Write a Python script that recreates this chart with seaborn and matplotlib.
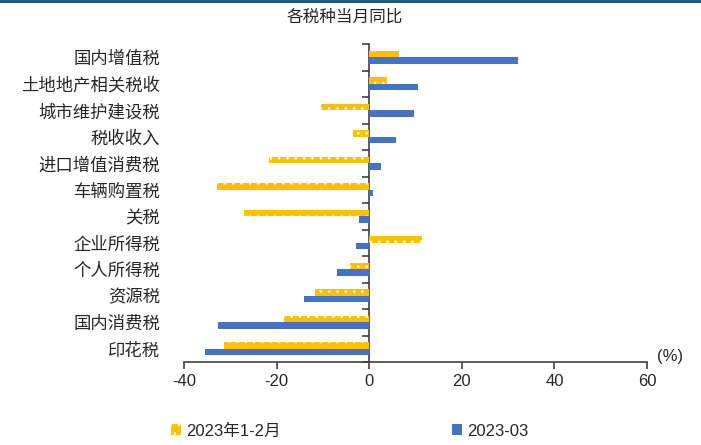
import numpy as np
import pandas as pd
import matplotlib
matplotlib.use("Agg")
import matplotlib.pyplot as plt
from matplotlib.patches import Patch
from matplotlib.lines import Line2D
import seaborn as sns

categories = ['国内增值税', '土地地产相关税收', '城市维护建设税', '税收收入', '进口增值消费税',
              '车辆购置税', '关税', '企业所得税', '个人所得税', '资源税', '国内消费税', '印花税']
jan_feb = [6.5, 3.8, -10.5, -3.4, -21.6, -32.8, -27.1, 11.5, -4.1, -11.7, -18.5, -31.4]
mar = [32.2, 10.6, 9.7, 5.7, 2.6, 0.9, -2.2, -2.9, -7.0, -14.1, -32.6, -35.4]
series_names = ['2023年1-2月', '2023-03']
xticks = [-40, -20, 0, 20, 40, 60]
title = '各税种当月同比'

yellow = '#FFC000'
blue = '#4472C4'

df = pd.DataFrame({
    'cat': categories * 2,
    'value': jan_feb + mar,
    'series': [series_names[0]] * len(categories) + [series_names[1]] * len(categories),
})

sns.set_style('white')
plt.rcParams['font.family'] = ['Liberation Sans', 'Noto Sans CJK SC']
plt.rcParams['hatch.linewidth'] = 0.7

fig = plt.figure(figsize=(7.01, 4.45), dpi=100)
ax = fig.add_axes([184 / 701, 1 - 362 / 445, (647 - 184) / 701, (362 - 44) / 445])

sns.barplot(data=df, y='cat', x='value', hue='series', orient='h',
            palette=[yellow, blue], hue_order=series_names, order=categories,
            width=0.5, saturation=1, legend=False, ax=ax)

for bar in ax.containers[0]:
    bar.set_hatch('..')
    bar.set_edgecolor('#FFF8E6')
    bar.set_linewidth(0)
for bar in ax.containers[1]:
    bar.set_linewidth(0)

ax.set_xlim(xticks[0], xticks[-1])
ax.set_xticks(xticks)
ax.set_xticklabels([str(t) for t in xticks], fontsize=12)
ax.set_xlabel('')
ax.set_ylabel('')
for s in ['top', 'right', 'left']:
    ax.spines[s].set_visible(False)
ax.spines['bottom'].set_color('#404040')
ax.spines['bottom'].set_linewidth(1.2)
ax.tick_params(axis='x', direction='out', length=5, width=1.2, color='#404040', bottom=True, pad=4)
ax.tick_params(axis='y', length=0, pad=17)
ax.set_yticks(range(len(categories)))
ax.set_yticklabels(categories, fontsize=12.5, family=['Noto Sans CJK SC'])

# zero line with category-boundary ticks
zpos = (0 - xticks[0]) / (xticks[-1] - xticks[0])
sec = ax.secondary_yaxis(zpos)
sec.set_yticks(np.arange(len(categories) + 1) - 0.5)
sec.set_yticklabels([])
sec.tick_params(axis='y', which='both', left=True, right=False, labelleft=False, labelright=False,
                length=5, width=1.2, direction='out', color='#404040')
for s in sec.spines.values():
    s.set_color('#404040')
    s.set_linewidth(1.2)

ax.text(1.022, 0.016, '(%)', transform=ax.transAxes, ha='left', va='center', fontsize=12)

fig.text(345 / 701, 1 - 17 / 445, title, ha='center', va='center', fontsize=12,
         family=['Noto Sans CJK SC'])

fig.add_artist(Line2D([0, 1], [0.998, 0.998], transform=fig.transFigure, color='#0d5075', lw=2))

handles = [Patch(facecolor=yellow, hatch='..', edgecolor='#FFF8E6', linewidth=0),
           Patch(facecolor=blue, linewidth=0)]
fig.legend(handles, series_names, loc='center left', bbox_to_anchor=(171 / 701, 14 / 445),
           ncol=2, frameon=False, fontsize=12, handlelength=0.6, handleheight=0.6,
           handletextpad=0.3, columnspacing=10.3, borderpad=0, borderaxespad=0)

fig.savefig('out.png', dpi=100)
